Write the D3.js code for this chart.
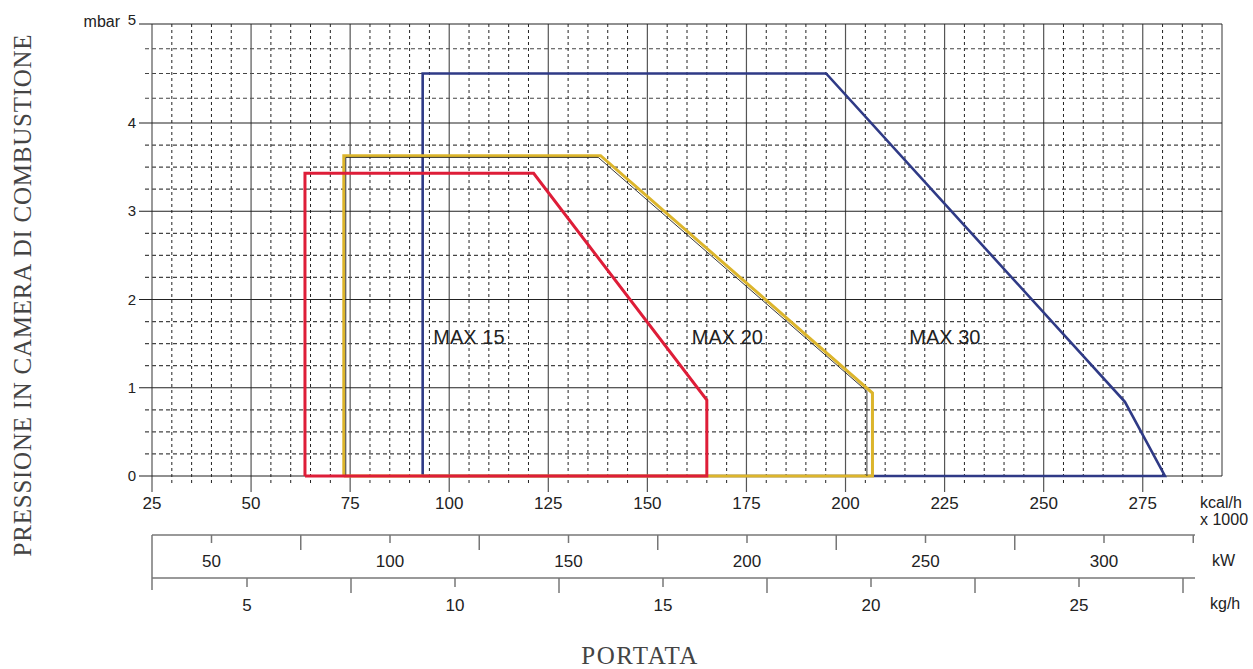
<!DOCTYPE html>
<html>
<head>
<meta charset="utf-8">
<script src="https://cdn.jsdelivr.net/npm/d3@7"></script>
<style>
  body { margin: 0; background: #fff; }
  text { font-family: "Liberation Sans", Arial, sans-serif; fill: #222; }
  .serif { font-family: "Liberation Serif", "Times New Roman", serif; fill: #444; }
</style>
</head>
<body>
<svg width="1253" height="669"></svg>
<script>
// tick values
const kcalTicks = [25, 50, 75, 100, 125, 150, 175, 200, 225, 250, 275];
const mbarTicks = [0, 1, 2, 3, 4, 5];
const kwLabels = [50, 100, 150, 200, 250, 300];
const kwShort = [50, 100, 150, 200, 250, 300, 325];
const kwLong = [75, 125, 175, 225, 275];
const kgLabels = [5, 10, 15, 20, 25];
const kgLong = [7.5, 12.5, 17.5, 22.5, 27.5];

// curves [kcal/h x1000, mbar]
const max30 = [[93.3, 0], [93.3, 4.5], [195.1, 4.5], [270.5, 0.84], [280.6, 0], [93.3, 0]];
const max20 = [[73.4, 0], [73.4, 3.63], [138.2, 3.63], [206.8, 0.94], [206.8, 0], [73.4, 0]];
const max20edge = [[73.9, 0], [73.9, 3.61], [137.6, 3.61], [205.4, 0.96], [205.4, 0]];
const max15 = [[63.6, 0], [63.6, 3.43], [121.3, 3.43], [165, 0.86], [165, 0], [63.6, 0]];
const labels = ["MAX 15", "MAX 20", "MAX 30"];
const labelAt = [[96, 1.5], [161.2, 1.5], [216.1, 1.5]];

const svg = d3.select("svg");
const plotTop = 24, plotBottom = 476, plotLeft = 152, plotRight = 1222;

// scales
let x = d3.scaleLinear().domain([25, 295]).range([plotLeft, plotRight]);
let y = d3.scaleLinear().domain([0, 4, 5]).range([plotBottom, 123, plotTop]);
let xkW = d3.scaleLinear().domain([100, 300]).range([390, 1104]);
let xkg = d3.scaleLinear().domain([10, 20]).range([455, 871]);

// grid
let xMinor = d3.range(30, 295, 5).filter(v => v % 25 !== 0);
let yMinor = d3.range(0.25, 5, 0.25).filter(v => v % 1 !== 0);
let grid = svg.append("g");

grid.selectAll(".vminor").data(xMinor).enter().append("line")
  .attr("x1", d => x(d)).attr("x2", d => x(d))
  .attr("y1", plotTop).attr("y2", plotBottom + 9)
  .attr("stroke", "#222").attr("stroke-width", 1).attr("stroke-dasharray", "3,3");

grid.selectAll(".hminor").data(yMinor).enter().append("line")
  .attr("x1", plotLeft - 7).attr("x2", plotRight)
  .attr("y1", d => y(d)).attr("y2", d => y(d))
  .attr("stroke", "#444").attr("stroke-width", 1.2).attr("stroke-dasharray", "4,3");

grid.selectAll(".vmajor").data(kcalTicks.concat([295])).enter().append("line")
  .attr("x1", d => x(d)).attr("x2", d => x(d))
  .attr("y1", plotTop).attr("y2", d => d === 295 ? plotBottom : plotBottom + 16)
  .attr("stroke", "#555").attr("stroke-width", 1.2);

grid.selectAll(".hmajor").data(mbarTicks).enter().append("line")
  .attr("x1", plotLeft - 13).attr("x2", plotRight)
  .attr("y1", d => y(d)).attr("y2", d => y(d))
  .attr("stroke", "#222").attr("stroke-width", 1.1);

// curves
let line = d3.line().x(d => x(d[0])).y(d => y(d[1]));
let curves = [
  {data: max30, color: "#2f3a86", w: 2.6},
  {data: max20, color: "#dcb52c", w: 3},
  {data: max20edge, color: "#222", w: 0.9},
  {data: max15, color: "#de1d38", w: 3}
];
svg.append("g").selectAll("path").data(curves).enter().append("path")
  .attr("d", d => line(d.data))
  .attr("fill", "none")
  .attr("stroke", d => d.color)
  .attr("stroke-width", d => d.w)
  .attr("stroke-linejoin", "miter");

svg.append("g").selectAll("text").data(labels).enter().append("text")
  .attr("x", (d, i) => x(labelAt[i][0]))
  .attr("y", (d, i) => y(labelAt[i][1]))
  .attr("font-size", 20)
  .text(d => d);

// y tick labels
svg.append("g").selectAll("text").data(mbarTicks).enter().append("text")
  .attr("x", 136).attr("y", d => y(d) + (d === 5 ? 1 : 5))
  .attr("text-anchor", "end").attr("font-size", 15)
  .text(d => d);
svg.append("text").attr("x", 120).attr("y", 27).attr("text-anchor", "end")
  .attr("font-size", 16).text("mbar");

// kcal labels
svg.append("g").selectAll("text").data(kcalTicks).enter().append("text")
  .attr("x", d => x(d)).attr("y", 509)
  .attr("text-anchor", "middle").attr("font-size", 17)
  .text(d => d);
svg.append("text").attr("x", 1200).attr("y", 508).attr("font-size", 16).text("kcal/h");
svg.append("text").attr("x", 1200).attr("y", 525).attr("font-size", 16).text("x 1000");

// kW and kg/h axes
let kwY = 535, kgY = 578;
let axes = svg.append("g").attr("stroke", "#777").attr("stroke-width", 1.5);
axes.append("line").attr("x1", plotLeft).attr("x2", 1195).attr("y1", kwY).attr("y2", kwY);
axes.append("line").attr("x1", plotLeft).attr("x2", 1195).attr("y1", kgY).attr("y2", kgY);
axes.append("line").attr("x1", plotLeft).attr("x2", plotLeft).attr("y1", kwY).attr("y2", kgY + 12);

axes.selectAll(".kws").data(kwShort).enter().append("line")
  .attr("x1", d => xkW(d)).attr("x2", d => xkW(d)).attr("y1", kwY).attr("y2", kwY + 8);
axes.selectAll(".kwl").data(kwLong).enter().append("line")
  .attr("x1", d => xkW(d)).attr("x2", d => xkW(d)).attr("y1", kwY).attr("y2", kwY + 15);
axes.selectAll(".kgs").data(kgLabels).enter().append("line")
  .attr("x1", d => xkg(d)).attr("x2", d => xkg(d)).attr("y1", kgY).attr("y2", kgY + 9);
axes.selectAll(".kgl").data(kgLong).enter().append("line")
  .attr("x1", d => xkg(d)).attr("x2", d => xkg(d)).attr("y1", kgY).attr("y2", kgY + 15);

svg.append("g").selectAll("text").data(kwLabels).enter().append("text")
  .attr("x", d => xkW(d)).attr("y", 567)
  .attr("text-anchor", "middle").attr("font-size", 17)
  .text(d => d);
svg.append("g").selectAll("text").data(kgLabels).enter().append("text")
  .attr("x", d => xkg(d)).attr("y", 611)
  .attr("text-anchor", "middle").attr("font-size", 17)
  .text(d => d);
svg.append("text").attr("x", 1212).attr("y", 566).attr("font-size", 16).text("kW");
svg.append("text").attr("x", 1210).attr("y", 609).attr("font-size", 16).text("kg/h");

// titles
svg.append("text").attr("class", "serif")
  .attr("x", 640).attr("y", 664).attr("text-anchor", "middle")
  .attr("font-size", 25).attr("letter-spacing", 1.5).text("PORTATA");
svg.append("text").attr("class", "serif")
  .attr("transform", "translate(31,295) rotate(-90)")
  .attr("text-anchor", "middle").attr("font-size", 25).attr("letter-spacing", 0.75)
  .text("PRESSIONE IN CAMERA DI COMBUSTIONE");
</script>
</body>
</html>
